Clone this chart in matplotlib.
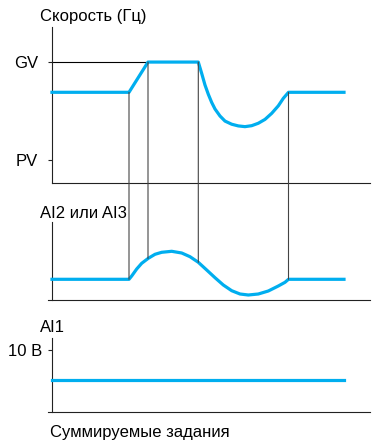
import numpy as np
import matplotlib
matplotlib.use("Agg")
import matplotlib.pyplot as plt
from matplotlib.patches import ConnectionPatch

plt.rcParams['font.family'] = ['Liberation Sans', 'DejaVu Sans']

# время (усл. ед.)
t_end = 31.8
t1, t2, t3, t4 = 7.7, 9.6, 14.63, 23.65

# скорость (Гц)
GV = 50
PV = 9.5
t_speed = [0, 7.7, 9.6, 14.63, 14.97, 15.3, 15.63, 15.97, 16.3, 16.8, 17.3, 17.97, 18.63,
           19.3, 19.97, 20.63, 21.3, 21.97, 22.63, 23.13, 23.65, 29.2]
v_speed = [37.5, 37.5, 50, 50, 45.3, 40.5, 36.7, 33.3, 30.6, 27.7, 25.6, 24.3, 23.6,
           23.3, 23.7, 24.7, 26.3, 28.8, 31.9, 35.0, 37.5, 37.5]

# AI2 или AI3
t_ai2 = [0, 7.7, 7.97, 8.47, 8.97, 9.63, 10.3, 10.97, 11.97, 12.97, 13.8, 14.63, 15.47,
         16.3, 17.13, 17.97, 18.8, 19.63, 20.63, 21.63, 22.63, 23.3, 23.65, 29.2]
v_ai2 = [2.07, 2.07, 2.4, 3.1, 3.67, 4.17, 4.57, 4.77, 4.87, 4.7, 4.33, 3.77, 3.0,
         2.23, 1.5, 0.93, 0.6, 0.5, 0.6, 0.9, 1.4, 1.77, 2.07, 2.07]

# AI1
t_ai1 = [0, 29.2]
v_ai1 = [5.2, 5.2]

blue = '#00AEEF'
W, H = 379, 441
fs = 12

fig = plt.figure(figsize=(W / 100, H / 100), dpi=100)


def make_ax(top_px, bot_px, ymax):
    ax = fig.add_axes([48 / W, 1 - bot_px / H, 322 / W, (bot_px - top_px) / H])
    ax.set_xlim(-0.4, t_end)
    ax.set_ylim(0, ymax)
    ax.patch.set_alpha(0)
    for s in ['top', 'right']:
        ax.spines[s].set_visible(False)
    ax.spines['left'].set_position(('data', 0))
    for s in ['left', 'bottom']:
        ax.spines[s].set_linewidth(0.8)
        ax.spines[s].set_color('#222222')
    ax.set_xticks([])
    ax.tick_params(axis='y', direction='out', length=3, width=0.8, color='#222222',
                   labelsize=fs, pad=6)
    return ax


ax1 = make_ax(27, 183, 64.5)
ax1.spines['bottom'].set_bounds(0, t_end)
ax1.set_yticks([PV, GV], ['PV', 'GV'])
ax1.tick_params(axis='y', pad=7)
ax1.plot([0, t2], [GV, GV], color='black', lw=0.8)
ax1.plot(t_speed, v_speed, color=blue, lw=2.3, solid_joinstyle='round', zorder=3)

ax2 = make_ax(222, 300, 7.8)
ax2.set_yticks([])
ax2.plot(t_ai2, v_ai2, color=blue, lw=2.3, solid_joinstyle='round', zorder=3)

ax3 = make_ax(338, 412, 11.9)
ax3.set_yticks([10], ['10 B'])
ax3.tick_params(axis='y', pad=4)
ax3.plot(t_ai1, v_ai1, color=blue, lw=2.3, zorder=3)

# вертикальные линии между графиками
for t in [t1, t2, t3, t4]:
    y_top = np.interp(t, t_speed, v_speed)
    y_mid = np.interp(t, t_ai2, v_ai2)
    con = ConnectionPatch(xyA=(t, y_top), coordsA=ax1.transData,
                          xyB=(t, y_mid), coordsB=ax2.transData,
                          color='#444444', lw=0.8, zorder=1)
    fig.add_artist(con)

fig.text(40 / W, 1 - 17 / H, 'Скорость (Гц)', fontsize=fs, va='center', ha='left')
fig.text(40 / W, 1 - 213 / H, 'AI2 или AI3', fontsize=fs, va='center', ha='left')
fig.text(40 / W, 1 - 327 / H, 'AI1', fontsize=fs, va='center', ha='left')
fig.text(50 / W, 1 - 433 / H, 'Суммируемые задания', fontsize=fs, va='center', ha='left')

fig.savefig('out.png', dpi=100, facecolor='white')
